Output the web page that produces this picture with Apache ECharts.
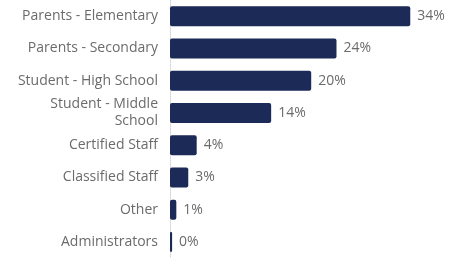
<!DOCTYPE html>
<html>
<head>
<meta charset="utf-8">
<script src="https://cdn.jsdelivr.net/npm/echarts@6/dist/echarts.min.js"></script>
<style>
  html, body { margin: 0; padding: 0; background: #fff; }
  #chart { width: 451px; height: 258px; }
</style>
</head>
<body>
<div id="chart"></div>
<script>
// categories, top to bottom
var categories = [
  'Parents - Elementary',
  'Parents - Secondary',
  'Student - High School',
  'Student - Middle School',
  'Certified Staff',
  'Classified Staff',
  'Other',
  'Administrators'
];
// share of responses (%)
var shares = [34.2, 23.7, 20.1, 14.4, 3.8, 2.6, 0.9, 0.3];
// value labels as printed
var shareLabels = ['34%', '24%', '20%', '14%', '4%', '3%', '1%', '0%'];

// long labels go onto two lines at the last space
function wrapLabel(s) {
  if (s.length <= 21) return s;
  var i = s.lastIndexOf(' ');
  return s.slice(0, i) + '\n' + s.slice(i + 1);
}

var chart = echarts.init(document.getElementById('chart'));
var option = {
  animation: false,
  grid: {
    left: 170,
    width: 282,
    top: -1,
    bottom: -6
  },
  xAxis: {
    type: 'value',
    min: 0,
    max: 40,
    show: false
  },
  yAxis: {
    type: 'category',
    data: categories,
    inverse: true,
    axisTick: { show: false },
    axisLine: {
      show: true,
      lineStyle: { color: '#d4d4d4', type: 'dotted', width: 1 }
    },
    axisLabel: {
      color: '#6b6b6b',
      fontFamily: 'Open Sans',
      fontSize: 14,
      margin: 12,
      lineHeight: 17,
      align: 'right',
      formatter: wrapLabel
    }
  },
  series: [
    {
      type: 'bar',
      data: shares,
      barWidth: 20,
      itemStyle: {
        color: '#1b2a57',
        borderRadius: 2
      },
      label: {
        show: true,
        position: 'right',
        distance: 7,
        color: '#6b6b6b',
        fontFamily: 'Open Sans',
        fontSize: 14,
        formatter: function(p) {
          return shareLabels[p.dataIndex];
        }
      }
    }
  ]
};
chart.setOption(option);
window.addEventListener('resize', function() {
  chart.resize();
});
</script>
</body>
</html>
